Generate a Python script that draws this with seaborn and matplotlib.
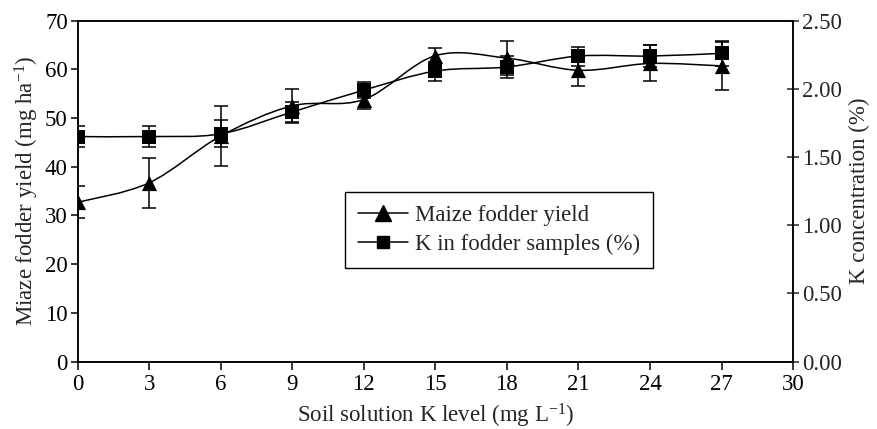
import numpy as np
import pandas as pd
import matplotlib
matplotlib.use("Agg")
import matplotlib.pyplot as plt
import seaborn as sns
from matplotlib.path import Path
from matplotlib.patches import PathPatch
from matplotlib.lines import Line2D

# soil solution K level (mg/L)
k_level = [0, 3, 6, 9, 12, 15, 18, 21, 24, 27]

# maize fodder yield (left axis) and its error
yield_mean = [32.7, 36.7, 46.3, 52.5, 53.8, 62.8, 62.3, 59.8, 61.2, 60.7]
yield_err = [3.3, 5.2, 6.2, 3.5, 1.9, 1.5, 3.5, 3.3, 3.7, 5.0]

# K in fodder samples, % (right axis) and its error
k_conc = [1.65, 1.65, 1.67, 1.83, 1.99, 2.13, 2.16, 2.24, 2.24, 2.26]
k_err = [0.08, 0.08, 0.10, 0.07, 0.06, 0.07, 0.08, 0.07, 0.08, 0.09]


# smooth curve through the points (Excel-like), drawn as bezier path in data coords
def smoothPath(x, y):
    x = np.asarray(x, float)
    y = np.asarray(y, float)
    pts = np.column_stack([x, y])
    verts = [pts[0]]
    codes = [Path.MOVETO]
    n = len(pts)
    for i in range(n - 1):
        p0 = pts[max(i - 1, 0)]
        p1 = pts[i]
        p2 = pts[i + 1]
        p3 = pts[min(i + 2, n - 1)]
        c1 = p1 + (p2 - p0) / 6.0
        c2 = p2 - (p3 - p1) / 6.0
        verts += [c1, c2, p2]
        codes += [Path.CURVE4] * 3
    return Path(verts, codes)


sns.set_theme(style="ticks")
plt.rcParams['font.family'] = ['Liberation Serif', 'DejaVu Serif']
plt.rcParams['mathtext.fontset'] = 'custom'
plt.rcParams['mathtext.rm'] = 'Liberation Serif'
plt.rcParams['mathtext.it'] = 'Liberation Serif:italic'
plt.rcParams['axes.edgecolor'] = 'black'
plt.rcParams['axes.linewidth'] = 1.1

FS = 16.5

df = pd.DataFrame({'k': k_level, 'yield': yield_mean, 'yerr': yield_err,
                   'conc': k_conc, 'cerr': k_err})

fig = plt.figure(figsize=(8.77, 4.29), dpi=100)
ax = fig.add_axes([0.0884, 0.157, 0.816, 0.795])
ax2 = ax.twinx()

lw = 1.1
# maize yield
ax.add_patch(PathPatch(smoothPath(df['k'], df['yield']), fill=False, color='black', lw=lw))
ax.errorbar(df['k'], df['yield'], yerr=df['yerr'], fmt='none', ecolor='black',
            elinewidth=lw, capsize=5, capthick=lw)
sns.scatterplot(data=df, x='k', y='yield', ax=ax, marker='^', s=120, color='black',
                edgecolor='black', linewidth=0, zorder=5, legend=False)

# K concentration
ax2.add_patch(PathPatch(smoothPath(df['k'], df['conc']), fill=False, color='black', lw=lw))
ax2.errorbar(df['k'], df['conc'], yerr=df['cerr'], fmt='none', ecolor='black',
             elinewidth=lw, capsize=5, capthick=lw)
sns.scatterplot(data=df, x='k', y='conc', ax=ax2, marker='s', s=90, color='black',
                edgecolor='black', linewidth=0, zorder=5, legend=False)

ax.set_xlim(0, 30)
ax.set_ylim(0, 70)
ax2.set_ylim(0, 2.5)
ax.set_xticks(range(0, 31, 3))
ax.set_yticks(range(0, 71, 10))
ax2.set_yticks(np.arange(0, 2.51, 0.5))
ax2.set_yticklabels([f"{v:.2f}" for v in np.arange(0, 2.51, 0.5)])

ax.tick_params(axis='both', labelsize=FS, colors='black', width=1.1)
ax.tick_params(axis='y', direction='out', length=5, pad=2)
ax.tick_params(axis='x', direction='out', length=6, pad=3)
ax2.tick_params(axis='y', direction='inout', length=9, labelsize=FS, width=1.1, pad=2)

ax.set_xlabel("Soil solution K level (mg L$^{-1}$)", fontsize=FS, labelpad=5)
ax.set_ylabel("Miaze fodder yield (mg ha$^{-1}$)", fontsize=FS, labelpad=3)
ax2.set_ylabel("K concentration (%)", fontsize=FS, labelpad=5)
for s in ax.spines.values():
    s.set_visible(True)
for s in ax2.spines.values():
    s.set_visible(True)

handles = [Line2D([], [], color='black', lw=lw, marker='^', markersize=11),
           Line2D([], [], color='black', lw=lw, marker='s', markersize=9)]
leg = ax.legend(handles, ["Maize fodder yield", "K in fodder samples (%)"],
                loc='upper left', bbox_to_anchor=(0.374, 0.496), fontsize=FS,
                frameon=True, fancybox=False, edgecolor='black', framealpha=1,
                handlelength=2.2, handletextpad=0.3, borderpad=0.55, labelspacing=0.35,
                borderaxespad=0)
leg.get_frame().set_linewidth(1.0)
leg.set_zorder(10)

fig.savefig("out.png", dpi=100)
